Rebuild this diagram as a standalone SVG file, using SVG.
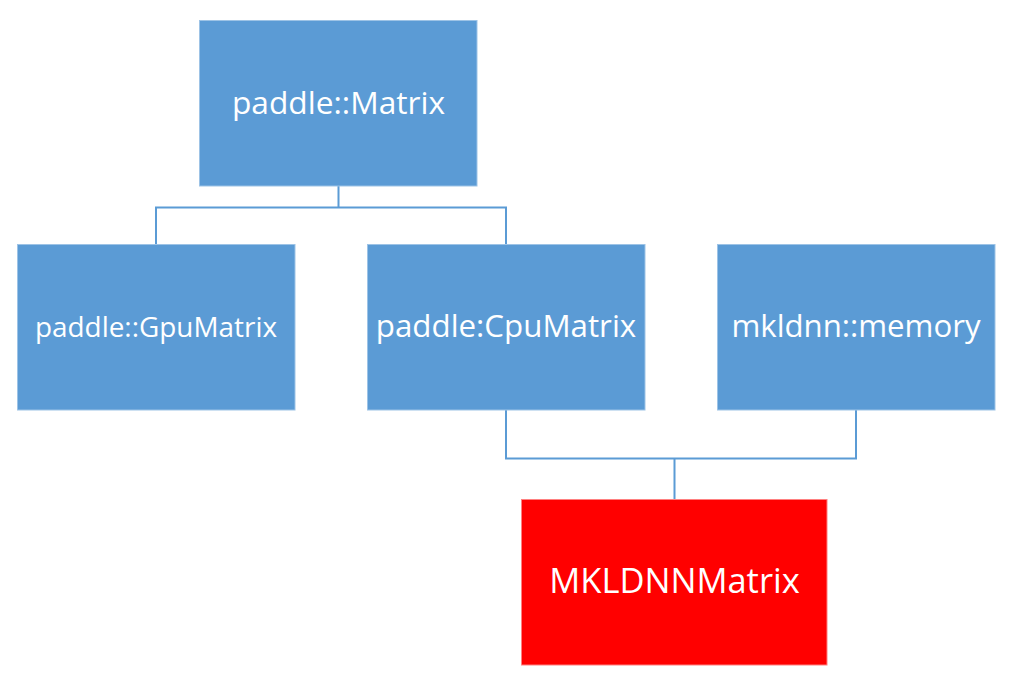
<svg xmlns="http://www.w3.org/2000/svg" width="1017" height="696" viewBox="0 0 1017 696">
<style>
.box{fill:#5b9bd5;stroke:#9dc3e6;stroke-width:1}
.red{fill:#ff0000;stroke:#ff8080;stroke-width:1}
.lbl{fill:#ffffff;font-family:"Open Sans","Liberation Sans",sans-serif;text-anchor:middle}
.conn{fill:none;stroke:#5b9bd5;stroke-width:2}
</style>
<rect width="1017" height="696" fill="#ffffff"/>
<g id="connectors">
<path class="conn" d="M338.5,186 V207.5 M156,244 V207.5 H506 V244"/>
<path class="conn" d="M506,410 V458.5 H856 V410 M674.5,458.5 V499"/>
</g>
<g id="matrix">
<rect class="box" x="199.5" y="20.5" width="277.5" height="165.5"/>
<text class="lbl" x="338.5" y="114" font-size="31.7">paddle::Matrix</text>
</g>
<g id="gpumatrix">
<rect class="box" x="17.5" y="244.5" width="277.5" height="165.5"/>
<text class="lbl" x="156" y="337" font-size="27.9">paddle::GpuMatrix</text>
</g>
<g id="cpumatrix">
<rect class="box" x="367.5" y="244.5" width="277.5" height="165.5"/>
<text class="lbl" x="506" y="337" font-size="31.3">paddle:CpuMatrix</text>
</g>
<g id="memory">
<rect class="box" x="717.5" y="244.5" width="277.5" height="165.5"/>
<text class="lbl" x="856" y="337" font-size="31.2">mkldnn::memory</text>
</g>
<g id="mkldnnmatrix">
<rect class="red" x="521.5" y="499.5" width="305.5" height="165.5"/>
<text class="lbl" x="674.5" y="593" font-size="34.5">MKLDNNMatrix</text>
</g>
</svg>
